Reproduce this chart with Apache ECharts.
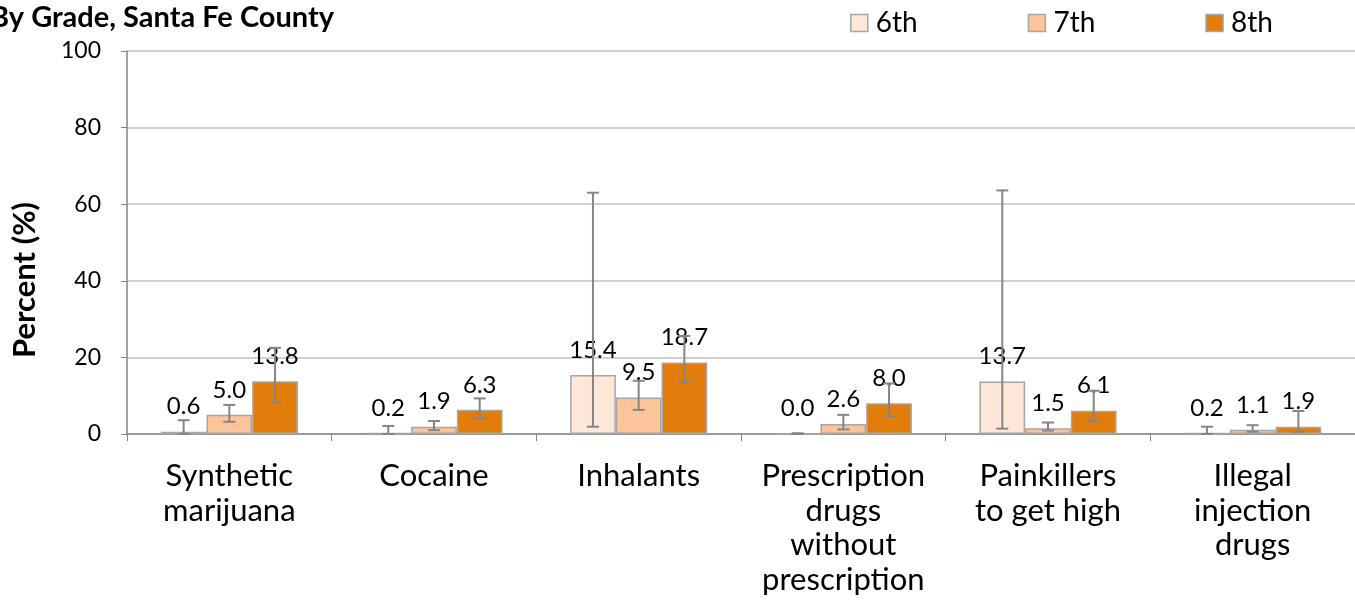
<!DOCTYPE html>
<html><head><meta charset="utf-8">
<script src="https://cdn.jsdelivr.net/npm/echarts@6/dist/echarts.min.js"></script>
<style>html,body{margin:0;padding:0;background:#fff}#c{width:1355px;height:609px}</style>
</head><body><div id="c"></div>
<script>
const categories = ["Synthetic\nmarijuana", "Cocaine", "Inhalants", "Prescription\ndrugs\nwithout\nprescription", "Painkillers\nto get high", "Illegal\ninjection\ndrugs"];
const seriesNames = ["6th", "7th", "8th"];
const g6 = [0.6, 0.2, 15.4, 0.0, 13.7, 0.2];
const g7 = [5.0, 1.9, 9.5, 2.6, 1.5, 1.1];
const g8 = [13.8, 6.3, 18.7, 8.0, 6.1, 1.9];
const g6Low = [0.0, 0.0, 1.9, 0.0, 1.4, 0.0];
const g6High = [3.6, 2.1, 63.0, 0.2, 63.6, 1.9];
const g7Low = [3.2, 1.0, 6.3, 1.2, 0.9, 0.6];
const g7High = [7.6, 3.4, 13.9, 5.0, 3.0, 2.3];
const g8Low = [8.2, 4.1, 13.4, 4.7, 3.3, 0.6];
const g8High = [22.5, 9.3, 25.6, 13.2, 11.3, 6.0];
const yTicks = [0, 20, 40, 60, 80, 100];

const colors = ["#FEE6D9", "#FDC39A", "#E27C0B"];
const FONT = "Lato, 'Open Sans', sans-serif";
const gap = 0.33;
const values = [g6, g7, g8];
const lows = [g6Low, g7Low, g8Low];
const highs = [g6High, g7High, g8High];

const chart = echarts.init(document.getElementById('c'));
const series = [];
values.forEach((vals, i) => {
  series.push({
    name: seriesNames[i], type: 'bar', data: vals,
    barGap: '0%', barCategoryGap: (gap * 100) + '%',
    itemStyle: { color: colors[i], borderColor: '#A6A6A6', borderWidth: 1.5 },
    label: { show: true, position: 'top', distance: 13, fontSize: 24, color: '#000', fontFamily: FONT,
      formatter: p => p.value.toFixed(1) }
  });
});
values.forEach((vals, i) => {
  series.push({
    type: 'custom', z: 10, silent: true,
    data: vals.map((v, k) => [k, lows[i][k], highs[i][k]]),
    renderItem: function (params, api) {
      const k = api.value(0);
      const band = api.size([1, 0])[0];
      const bw = band * (1 - gap) / 3;
      const lo = api.coord([k, api.value(1)]);
      const hi = api.coord([k, api.value(2)]);
      const x = lo[0] + (i - 1) * bw;
      const cw = 6;
      const st = { stroke: '#858585', lineWidth: 2 };
      return { type: 'group', children: [
        { type: 'line', shape: { x1: x, y1: lo[1], x2: x, y2: hi[1] }, style: st },
        { type: 'line', shape: { x1: x - cw, y1: lo[1], x2: x + cw, y2: lo[1] }, style: st },
        { type: 'line', shape: { x1: x - cw, y1: hi[1], x2: x + cw, y2: hi[1] }, style: st }
      ]};
    }
  });
});

chart.setOption({
  animation: false,
  textStyle: { fontFamily: FONT },
  title: { text: "By Grade, Santa Fe County", left: -15, top: -2,
    textStyle: { fontSize: 29, fontWeight: 'bold', color: '#000', fontFamily: FONT } },
  legend: {
    data: seriesNames, left: 850, top: 9, padding: 0, itemWidth: 17, itemHeight: 17, itemGap: 110, icon: 'rect',
    textStyle: { fontSize: 28, color: '#000', fontFamily: FONT, padding: [0, 0, 0, 3] },
    itemStyle: { borderColor: '#A6A6A6', borderWidth: 1.5 }
  },
  graphic: [{
    type: 'text', x: 25, y: 280, rotation: Math.PI / 2,
    style: { text: 'Percent (%)', fill: '#000', font: 'bold 31px Lato, sans-serif',
      textAlign: 'center', textVerticalAlign: 'middle' }
  }],
  grid: { left: 127, top: 51, bottom: 175, right: -14 },
  xAxis: {
    type: 'category', data: categories,
    axisLine: { lineStyle: { color: '#868686', width: 1.5 } },
    axisTick: { show: true, length: 7, lineStyle: { color: '#868686' } },
    axisLabel: { fontSize: 31, color: '#000', lineHeight: 34.5, margin: 25, interval: 0, fontFamily: FONT }
  },
  yAxis: {
    type: 'value', min: yTicks[0], max: yTicks[yTicks.length - 1], interval: 20,
    axisLine: { show: true, lineStyle: { color: '#868686', width: 1.5 } },
    axisTick: { show: true, length: 6, lineStyle: { color: '#868686' } },
    splitLine: { lineStyle: { color: '#C0C0C0', width: 1.5 } },
    axisLabel: { fontSize: 23, color: '#000', margin: 26, fontFamily: FONT }
  },
  series: series
});
</script></body></html>
